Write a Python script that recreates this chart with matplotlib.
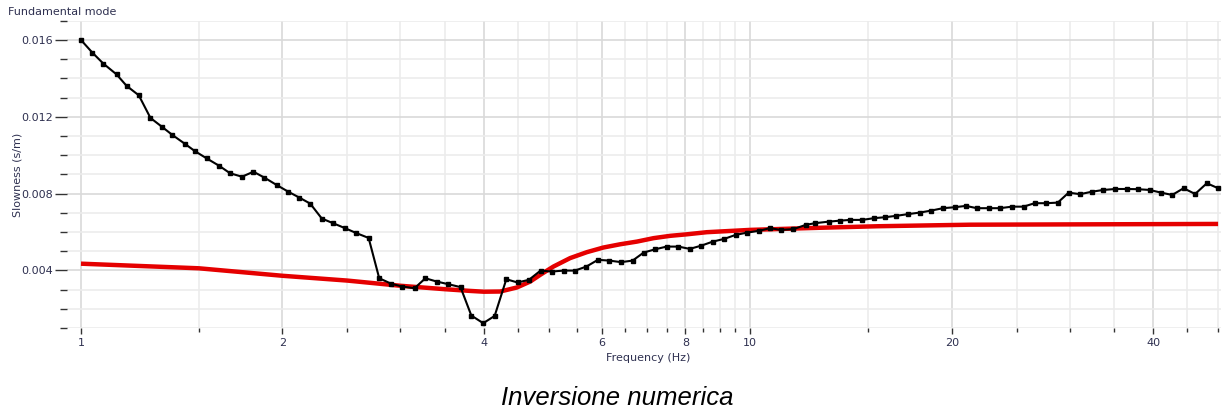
import matplotlib
matplotlib.use("Agg")
import matplotlib.pyplot as plt
from matplotlib.ticker import FixedLocator, FixedFormatter, NullFormatter

# Picked dispersion curve: frequency (Hz) and slowness (s/m)
freq = [1.00, 1.04, 1.08, 1.13, 1.17, 1.22, 1.27, 1.32, 1.37, 1.43,
        1.48, 1.54, 1.61, 1.67, 1.74, 1.81, 1.88, 1.96, 2.04, 2.12,
        2.20, 2.29, 2.38, 2.48, 2.58, 2.69, 2.79, 2.91, 3.02, 3.15,
        3.27, 3.40, 3.54, 3.69, 3.83, 3.99, 4.15, 4.32, 4.49, 4.67,
        4.86, 5.05, 5.26, 5.47, 5.69, 5.92, 6.16, 6.41, 6.67, 6.93,
        7.21, 7.50, 7.81, 8.12, 8.45, 8.79, 9.14, 9.51, 9.90, 10.3,
        10.7, 11.1, 11.6, 12.1, 12.5, 13.1, 13.6, 14.1, 14.7, 15.3,
        15.9, 16.5, 17.2, 17.9, 18.6, 19.4, 20.2, 21.0, 21.8, 22.7,
        23.6, 24.6, 25.6, 26.6, 27.7, 28.8, 29.9, 31.1, 32.4, 33.7,
        35.1, 36.5, 37.9, 39.5, 41.1, 42.7, 44.4, 46.2, 48.1, 50.0]

slowness_picked = [0.01600, 0.01534, 0.01477, 0.01421, 0.01361, 0.01312, 0.01194, 0.01149, 0.01105, 0.01059,
                   0.01021, 0.00984, 0.00944, 0.00906, 0.00888, 0.00914, 0.00883, 0.00845, 0.00810, 0.00779,
                   0.00748, 0.00670, 0.00646, 0.00620, 0.00594, 0.00569, 0.00359, 0.00330, 0.00316, 0.00307,
                   0.00359, 0.00342, 0.00328, 0.00313, 0.00165, 0.00125, 0.00163, 0.00354, 0.00337, 0.00351,
                   0.00399, 0.00394, 0.00399, 0.00399, 0.00420, 0.00455, 0.00451, 0.00443, 0.00451, 0.00493,
                   0.00510, 0.00524, 0.00524, 0.00512, 0.00529, 0.00550, 0.00564, 0.00585, 0.00597, 0.00606,
                   0.00620, 0.00611, 0.00615, 0.00637, 0.00646, 0.00654, 0.00659, 0.00663, 0.00663, 0.00672,
                   0.00677, 0.00684, 0.00693, 0.00701, 0.00711, 0.00724, 0.00729, 0.00736, 0.00724, 0.00724,
                   0.00724, 0.00732, 0.00732, 0.00750, 0.00750, 0.00753, 0.00805, 0.00797, 0.00810, 0.00819,
                   0.00824, 0.00824, 0.00823, 0.00819, 0.00805, 0.00793, 0.00828, 0.00798, 0.00854, 0.00828]

# Theoretical curve of the inverted model
freq_model = [1.0, 1.5, 2.0, 2.5, 3.0, 3.5, 3.82, 4.0, 4.23, 4.48,
              4.69, 4.86, 5.08, 5.38, 5.70, 6.03, 6.39, 6.77, 7.17, 7.59,
              8.04, 8.61, 10.0, 12.7, 15.5, 21.3, 50.0]
slowness_model = [0.00435, 0.00411, 0.00372, 0.00347, 0.00320, 0.00302, 0.00293, 0.00289, 0.00290, 0.00311,
                  0.00342, 0.00378, 0.00420, 0.00464, 0.00495, 0.00519, 0.00536, 0.00550, 0.00568, 0.00580,
                  0.00588, 0.00599, 0.00611, 0.00622, 0.00630, 0.00638, 0.00642]

x_major = [1, 2, 4, 6, 8, 10, 20, 40]
x_major_labels = ["1", "2", "4", "6", "8", "10", "20", "40"]
x_minor = [1.5, 2.5, 3, 3.5, 4.5, 5, 5.5, 6.5, 7, 7.5, 8.5, 9, 9.5, 15, 25, 30, 35, 45, 50]
y_major = [0.004, 0.008, 0.012, 0.016]
y_major_labels = ["0.004", "0.008", "0.012", "0.016"]
y_minor = [0.001, 0.002, 0.003, 0.005, 0.006, 0.007, 0.009, 0.010, 0.011,
           0.013, 0.014, 0.015, 0.017]

W, H = 1222, 411
fig = plt.figure(figsize=(W / 100, H / 100), dpi=100)
left_px, right_px, top_px, bottom_px = 67, 1221, 20.8, 328
ax = fig.add_axes([left_px / W, 1 - bottom_px / H,
                   (right_px - left_px) / W, (bottom_px - top_px) / H])

label_color = "#2e3050"

ax.plot(freq_model, slowness_model, color="#e50000", lw=3.2, solid_capstyle="butt", zorder=3)
ax.plot(freq, slowness_picked, color="black", lw=1.5, marker="s", ms=3.2, zorder=4)

ax.set_xscale("log")
ax.set_xlim(0.953, 50.5)
ax.set_ylim(0.001, 0.017)

ax.xaxis.set_major_locator(FixedLocator(x_major))
ax.xaxis.set_major_formatter(FixedFormatter(x_major_labels))
ax.xaxis.set_minor_locator(FixedLocator(x_minor))
ax.xaxis.set_minor_formatter(NullFormatter())
ax.yaxis.set_major_locator(FixedLocator(y_major))
ax.yaxis.set_major_formatter(FixedFormatter(y_major_labels))
ax.yaxis.set_minor_locator(FixedLocator(y_minor))
ax.yaxis.set_minor_formatter(NullFormatter())

ax.grid(which="major", color="#d9d9d9", lw=1.2, zorder=0)
ax.grid(which="minor", color="#ececec", lw=1.2, zorder=0)
ax.set_axisbelow(True)

for s in ax.spines.values():
    s.set_visible(False)

ax.tick_params(axis="x", which="major", length=4, width=1, color="#333333",
               labelsize=8, labelcolor=label_color, pad=3)
ax.tick_params(axis="x", which="minor", length=3, width=1, color="#333333")
ax.tick_params(axis="y", which="major", length=9, width=1, color="#333333",
               labelsize=8, labelcolor=label_color, pad=1)
ax.tick_params(axis="y", which="minor", length=5, width=1, color="#333333")

ax.set_xlabel("Frequency (Hz)", fontsize=8, color=label_color)
ax.xaxis.set_label_coords((648 - left_px) / (right_px - left_px), -(358 - bottom_px) / (bottom_px - top_px))
ax.set_ylabel("Slowness (s/m)", fontsize=8, color=label_color)
ax.yaxis.set_label_coords((18 - left_px) / (right_px - left_px), 0.5)
ax.xaxis.label.set_va("center")
ax.yaxis.label.set_va("center")

fig.text(8 / W, 1 - 12 / H, "Fundamental mode", fontsize=8, color=label_color,
         ha="left", va="center")
fig.text(617 / W, 1 - 398 / H, "Inversione numerica", fontsize=18.5, style="italic",
         family="Liberation Sans", color="black", ha="center", va="center")

fig.savefig("out.png", dpi=100)
